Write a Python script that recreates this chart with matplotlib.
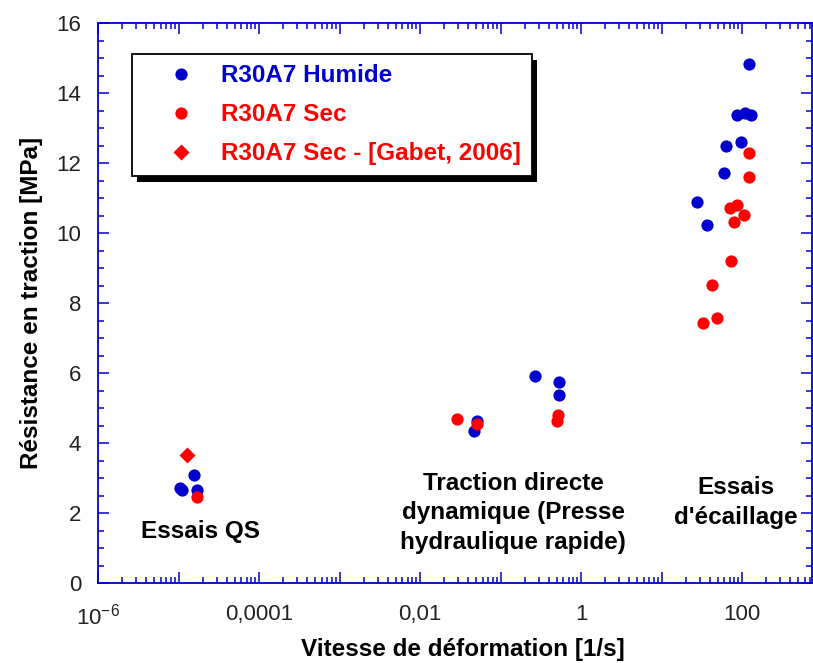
import math
import matplotlib
matplotlib.use("Agg")
import matplotlib.pyplot as plt
from matplotlib.patches import Rectangle
from matplotlib.ticker import LogLocator, AutoMinorLocator, FuncFormatter, MultipleLocator

plt.rcParams['font.family'] = ['Liberation Sans', 'DejaVu Sans']
plt.rcParams['mathtext.fontset'] = 'custom'
plt.rcParams['mathtext.rm'] = 'Liberation Sans'

# R30A7 humide
humide_x = [1.05e-5, 1.1e-5, 1.56e-5, 1.68e-5, 0.0469, 0.0514, 0.267, 0.537, 0.537,
            27.4, 36.4, 59.7, 62.7, 96.3, 86.7, 109, 129, 122]
humide_y = [2.72, 2.65, 3.09, 2.66, 4.34, 4.63, 5.91, 5.75, 5.37,
            10.88, 10.23, 11.71, 12.49, 12.61, 13.37, 13.42, 13.37, 14.82]

# R30A7 sec
sec_x = [1.71e-5, 0.0291, 0.0514, 0.522, 0.499,
         33.0, 48.5, 42.1, 72.4, 79.6, 71.0, 87.5, 106, 122, 122]
sec_y = [2.47, 4.68, 4.54, 4.80, 4.64,
         7.44, 7.56, 8.51, 9.20, 10.32, 10.71, 10.80, 10.51, 11.61, 12.28]

# R30A7 sec - Gabet 2006
gabet_x = [1.26e-5]
gabet_y = [3.66]

x_labels = {-6: r'$\mathregular{10^{-6}}$', -4: '0,0001', -2: '0,01', 0: '1', 2: '100'}

bleu = '#0000CC'
rouge = '#FF0000'

fig = plt.figure(figsize=(8.13, 6.63), dpi=100)
ax = fig.add_axes([98 / 813, 80 / 663, 714 / 813, 560 / 663])

ax.plot(humide_x, humide_y, 'o', color=bleu, ms=8.8, mec='none', label='R30A7 Humide')
ax.plot(sec_x, sec_y, 'o', color=rouge, ms=8.8, mec='none', label='R30A7 Sec')
ax.plot(gabet_x, gabet_y, 'D', color=rouge, ms=8, mec='none', label='R30A7 Sec - [Gabet, 2006]')

ax.set_xscale('log')
ax.set_xlim(1e-6, 740)
ax.set_ylim(0, 16)

ax.xaxis.set_major_locator(LogLocator(base=10, numticks=20))
ax.xaxis.set_minor_locator(LogLocator(base=10, subs=range(2, 10), numticks=20))


def fmt_x(v, pos):
    e = int(round(math.log10(v)))
    return x_labels.get(e, '')


ax.xaxis.set_major_formatter(FuncFormatter(fmt_x))
ax.xaxis.set_minor_formatter(FuncFormatter(lambda v, p: ''))
ax.yaxis.set_major_locator(MultipleLocator(2))
ax.yaxis.set_minor_locator(AutoMinorLocator(4))

for s in ax.spines.values():
    s.set_color(bleu)
    s.set_linewidth(1.3)

ax.tick_params(which='both', direction='in', top=True, right=True, color=bleu,
               labelcolor='#222222', labelsize=16, width=1.1)
ax.tick_params(which='major', length=8)
ax.tick_params(which='minor', length=4.5)
ax.tick_params(axis='x', pad=15)
ax.tick_params(axis='y', pad=12)

ax.set_xlabel('Vitesse de déformation [1/s]', fontsize=17.5, fontweight='bold', labelpad=6)
ax.xaxis.label.set_x(0.511)
ax.set_ylabel('Résistance en traction [MPa]', fontsize=17.5, fontweight='bold', labelpad=10)

txt = dict(fontsize=17.5, fontweight='bold', ha='center', va='center', color='black',
           linespacing=1.35)
ax.text(1.85e-5, 1.46, 'Essais QS', **txt)
ax.text(0.143, 2.0, 'Traction directe\ndynamique (Presse\nhydraulique rapide)', **txt)
ax.text(83, 2.3, "Essais\nd'écaillage", **txt)

leg = ax.legend(loc='upper left', bbox_to_anchor=(0.0476, 0.945), borderaxespad=0,
                prop={'weight': 'bold', 'size': 17.5},
                labelcolor='markerfacecolor', fancybox=False, framealpha=1,
                edgecolor='black', borderpad=0.43, handlelength=3.2,
                handletextpad=0.05, labelspacing=0.66, numpoints=1)
leg.get_frame().set_linewidth(1.3)

# ombre noire sous le cadre de la légende
fig.canvas.draw()
bb = leg.get_window_extent().transformed(fig.transFigure.inverted())
dx, dy = 5 / 813, 6 / 663
ombre = Rectangle((bb.x0 + dx, bb.y0 - dy), bb.width, bb.height, transform=fig.transFigure,
                  facecolor='black', edgecolor='none', zorder=4.9, clip_on=False)
ax.add_artist(ombre)

fig.savefig('out.png', dpi=100)
